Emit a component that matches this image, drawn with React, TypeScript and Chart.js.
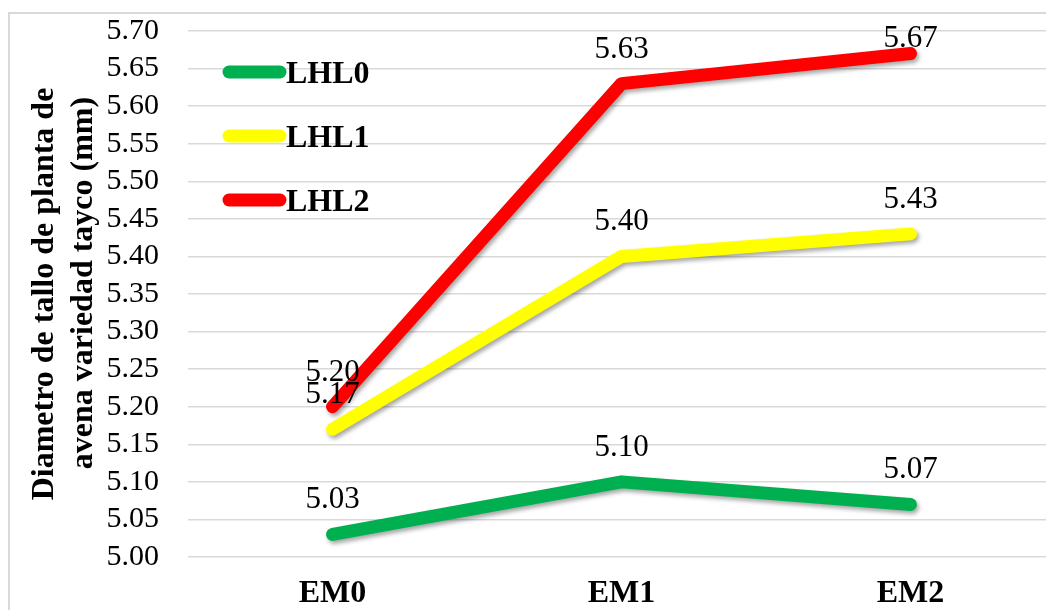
import React, { useEffect, useRef } from "react";
import { Chart, registerables } from "chart.js";

Chart.register(...registerables);

// Data
const categories = ["EM0", "EM1", "EM2"];
const seriesNames = ["LHL0", "LHL1", "LHL2"];
const lhl0 = [5.03, 5.1, 5.07];
const lhl1 = [5.17, 5.4, 5.43];
const lhl2 = [5.2, 5.63, 5.67];
const seriesColors = ["#00B050", "#FFFF00", "#FF0000"];
const yMin = 5.0;
const yMax = 5.7;
const yStep = 0.05;
const yTitleLines = ["Diametro de tallo de planta de", "avena variedad tayco (mm)"];

const SERIF = "'Liberation Serif', 'Times New Roman', serif";

// Light gray frame around the whole chart
const framePlugin = {
  id: "frame",
  beforeDraw(chart: any) {
    const ctx = chart.ctx;
    ctx.save();
    ctx.fillStyle = "#ffffff";
    ctx.fillRect(0, 0, chart.width, chart.height);
    ctx.strokeStyle = "#d9d9d9";
    ctx.lineWidth = 2;
    ctx.strokeRect(9, 13, chart.width + 20, chart.height + 20);
    ctx.restore();
  },
};

// Soft drop shadow under each line
const shadowPlugin = {
  id: "lineShadow",
  beforeDatasetDraw(chart: any) {
    const ctx = chart.ctx;
    ctx.save();
    ctx.shadowColor = "rgba(0,0,0,0.35)";
    ctx.shadowBlur = 4;
    ctx.shadowOffsetX = 2;
    ctx.shadowOffsetY = 3;
  },
  afterDatasetDraw(chart: any) {
    chart.ctx.restore();
  },
};

// Value labels above every point
const valueLabelPlugin = {
  id: "valueLabels",
  afterDatasetsDraw(chart: any) {
    const ctx = chart.ctx;
    ctx.save();
    ctx.font = `31px ${SERIF}`;
    ctx.fillStyle = "#000000";
    ctx.textAlign = "center";
    ctx.textBaseline = "alphabetic";
    chart.data.datasets.forEach((ds: any, di: number) => {
      const meta = chart.getDatasetMeta(di);
      meta.data.forEach((pt: any, i: number) => {
        const v = ds.data[i] as number;
        let baseline = pt.y - 26;
        // keep the label inside the frame
        if (baseline < 47) baseline = 47;
        ctx.fillText(v.toFixed(2), pt.x, baseline);
      });
    });
    ctx.restore();
  },
};

// Legend drawn inside the plot, thick round-capped samples
const legendPlugin = {
  id: "insideLegend",
  afterDraw(chart: any) {
    const ctx = chart.ctx;
    ctx.save();
    chart.data.datasets.forEach((ds: any, i: number) => {
      const y = 72 + i * 64;
      ctx.strokeStyle = ds.borderColor;
      ctx.lineWidth = 13;
      ctx.lineCap = "round";
      ctx.beginPath();
      ctx.moveTo(229, y);
      ctx.lineTo(280, y);
      ctx.stroke();
      ctx.fillStyle = "#000000";
      ctx.font = `bold 32px ${SERIF}`;
      ctx.textAlign = "left";
      ctx.textBaseline = "alphabetic";
      ctx.fillText(ds.label, 286, y + 11);
    });
    ctx.restore();
  },
};

// Two-line rotated y axis title
const yTitlePlugin = {
  id: "yTitle",
  afterDraw(chart: any) {
    const ctx = chart.ctx;
    const baselines = [53, 92];
    const centers = [294, 283];
    ctx.save();
    ctx.fillStyle = "#000000";
    ctx.font = `bold 32px ${SERIF}`;
    ctx.textAlign = "center";
    ctx.textBaseline = "alphabetic";
    yTitleLines.forEach((line, i) => {
      ctx.save();
      ctx.translate(baselines[i], centers[i]);
      ctx.rotate(-Math.PI / 2);
      ctx.fillText(line, 0, 0);
      ctx.restore();
    });
    ctx.restore();
  },
};

export default function App() {
  const canvasRef = useRef<HTMLCanvasElement | null>(null);

  useEffect(() => {
    if (!canvasRef.current) return;
    const seriesValues = [lhl0, lhl1, lhl2];
    const chart = new Chart(canvasRef.current, {
      type: "line",
      data: {
        labels: categories,
        datasets: seriesNames.map((name, i) => ({
          label: name,
          data: seriesValues[i],
          borderColor: seriesColors[i],
          backgroundColor: seriesColors[i],
          borderWidth: 13,
          borderCapStyle: "round" as const,
          borderJoinStyle: "round" as const,
          pointRadius: 0,
          pointHoverRadius: 0,
          tension: 0,
          fill: false,
        })),
      },
      options: {
        responsive: false,
        animation: false,
        devicePixelRatio: 1,
        layout: { padding: { left: 0, top: 31, right: 15, bottom: 0 } },
        plugins: {
          legend: { display: false },
          tooltip: { enabled: false },
          title: { display: false },
        },
        scales: {
          x: {
            type: "category",
            offset: true,
            grid: { display: false, drawTicks: false },
            border: { display: false },
            ticks: {
              padding: 18,
              color: "#000000",
              font: { family: SERIF, size: 32, weight: "bold" },
            },
            afterFit(scale: any) {
              scale.height = 73;
              scale.paddingLeft = 0;
              scale.paddingRight = 0;
            },
          },
          y: {
            min: yMin,
            max: yMax,
            grid: { color: "#d9d9d9", lineWidth: 1.5, drawTicks: false },
            border: { display: false },
            ticks: {
              stepSize: yStep,
              autoSkip: false,
              padding: 29,
              color: "#000000",
              font: { family: SERIF, size: 30 },
              callback: (v: any) => Number(v).toFixed(2),
            },
            afterFit(scale: any) {
              scale.width = 188;
              scale.paddingTop = 0;
              scale.paddingBottom = 0;
            },
          },
        },
      },
      plugins: [framePlugin, shadowPlugin, valueLabelPlugin, legendPlugin, yTitlePlugin],
    });
    return () => chart.destroy();
  }, []);

  return (
    <div
      style={{
        position: "absolute",
        left: 0,
        top: 0,
        width: 1046,
        height: 610,
        overflow: "hidden",
        background: "#ffffff",
      }}
    >
      <canvas
        ref={canvasRef}
        width={1070}
        height={630}
        style={{ position: "absolute", left: 0, top: 0, width: 1070, height: 630 }}
      />
    </div>
  );
}
